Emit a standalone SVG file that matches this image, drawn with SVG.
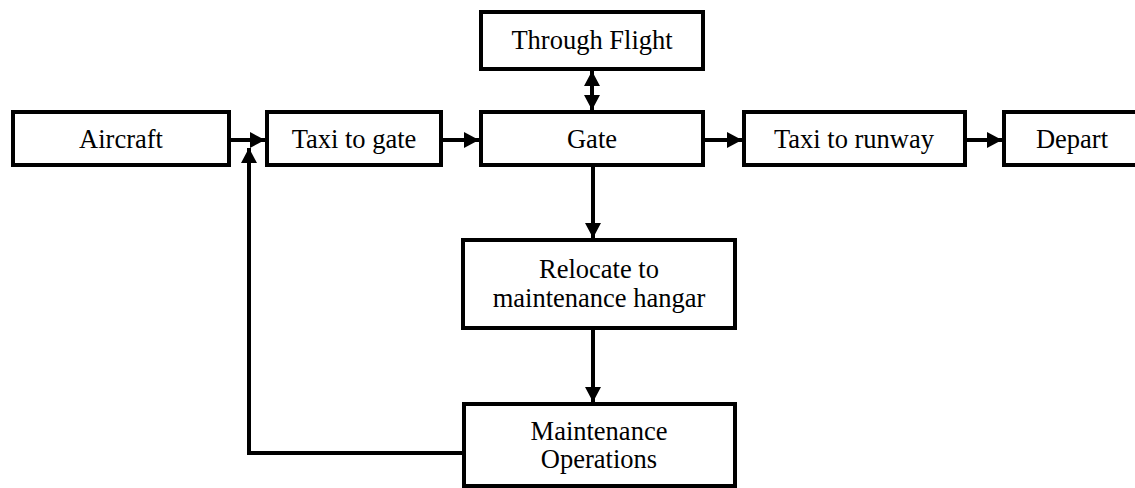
<svg xmlns="http://www.w3.org/2000/svg" width="1135" height="488" viewBox="0 0 1135 488">
<defs>
<style>
.box{fill:#fff;stroke:#000;stroke-width:4}
.lbl{font-family:"Liberation Serif","Times New Roman",serif;font-size:26.5px;fill:#000;text-anchor:middle}
.con{fill:none;stroke:#000;stroke-width:4}
</style>
<marker id="ah" markerUnits="userSpaceOnUse" viewBox="0 0 15 16" refX="15" refY="8" markerWidth="15" markerHeight="16" orient="auto-start-reverse">
<path d="M0,0 L15,8 L0,16 z" fill="#000"/>
</marker>
</defs>
<g id="connectors">
<line class="con" x1="231" y1="140" x2="265" y2="140" marker-end="url(#ah)"/>
<line class="con" x1="443" y1="140" x2="479" y2="140" marker-end="url(#ah)"/>
<line class="con" x1="705" y1="140" x2="742" y2="140" marker-end="url(#ah)"/>
<line class="con" x1="967" y1="140" x2="1002" y2="140" marker-end="url(#ah)"/>
<line class="con" x1="592" y1="71" x2="592" y2="110" marker-start="url(#ah)" marker-end="url(#ah)"/>
<line class="con" x1="593" y1="167" x2="593" y2="238" marker-end="url(#ah)"/>
<line class="con" x1="593" y1="330" x2="593" y2="402" marker-end="url(#ah)"/>
<path class="con" d="M462,453 L249,453 L249,148" marker-end="url(#ah)"/>
</g>
<g id="aircraft">
<rect class="box" x="13" y="112" width="216" height="53"/>
<text class="lbl" x="121" y="148">Aircraft</text>
</g>
<g id="taxi-to-gate">
<rect class="box" x="267" y="112" width="174" height="53"/>
<text class="lbl" x="354" y="148">Taxi to gate</text>
</g>
<g id="through-flight">
<rect class="box" x="481" y="12" width="222" height="57"/>
<text class="lbl" x="592" y="49">Through Flight</text>
</g>
<g id="gate">
<rect class="box" x="481" y="112" width="222" height="53"/>
<text class="lbl" x="592" y="148">Gate</text>
</g>
<g id="taxi-to-runway">
<rect class="box" x="744" y="112" width="221" height="53"/>
<text class="lbl" x="854" y="148">Taxi to runway</text>
</g>
<g id="depart">
<rect class="box" x="1004" y="112" width="140" height="53"/>
<text class="lbl" x="1072" y="148">Depart</text>
</g>
<g id="relocate">
<rect class="box" x="463" y="240" width="272" height="88"/>
<text class="lbl" x="599" y="278">Relocate to</text>
<text class="lbl" x="599" y="307">maintenance hangar</text>
</g>
<g id="maintenance">
<rect class="box" x="464" y="404" width="271" height="82"/>
<text class="lbl" x="599" y="440">Maintenance</text>
<text class="lbl" x="599" y="468">Operations</text>
</g>
</svg>
